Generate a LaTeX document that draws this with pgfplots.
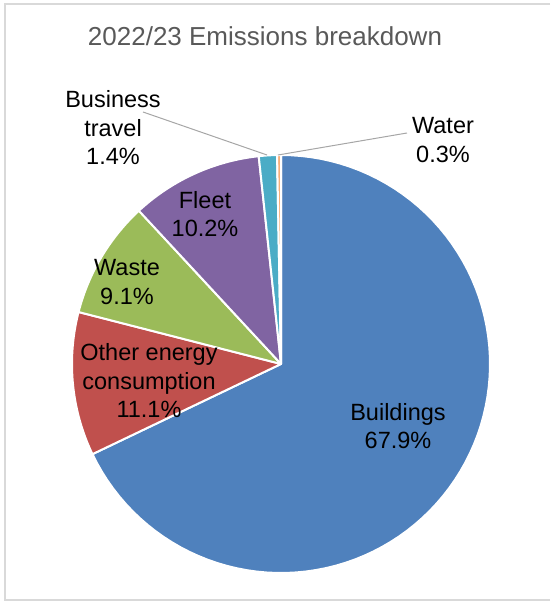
\documentclass[border=0pt]{standalone}
\usepackage{pgfplots}
\pgfplotsset{compat=1.18}
\usepackage{pgfplotstable}
\usepackage{fontspec}
\setmainfont{Liberation Sans}
\definecolor{cBuild}{HTML}{4F81BD}
\definecolor{cOther}{HTML}{C0504D}
\definecolor{cWaste}{HTML}{9BBB59}
\definecolor{cFleet}{HTML}{8064A2}
\definecolor{cBus}{HTML}{4BACC6}
\definecolor{cWater}{HTML}{F9B07A}
\definecolor{frame}{HTML}{D9D9D9}
\definecolor{leader}{HTML}{A6A6A6}
\definecolor{titlec}{HTML}{595959}
\pgfplotstableread[col sep=comma]{
label,value,color
Buildings,67.9,cBuild
Other energy consumption,11.1,cOther
Waste,9.1,cWaste
Fleet,10.2,cFleet
Business travel,1.4,cBus
Water,0.3,cWater
}\emissions
\begin{document}
\begin{tikzpicture}
\begin{axis}[scale only axis, width=550pt, height=603pt,
  xmin=0, xmax=550, ymin=0, ymax=603, hide axis, clip=false]
\path (axis cs:0,0) rectangle (axis cs:550,603);
\draw[frame, line width=1.5pt] (axis cs:550,599) -- (axis cs:5,599) -- (axis cs:5,3) -- (axis cs:550,3);
\gdef\cum{0}
\pgfplotsinvokeforeach{0,...,5}{%
  \pgfplotstablegetelem{#1}{value}\of\emissions \let\val\pgfplotsretval
  \pgfplotstablegetelem{#1}{color}\of\emissions \let\col\pgfplotsretval
  \pgfmathsetmacro{\aend}{90-3.6*\cum}%
  \pgfmathsetmacro{\astart}{90-3.6*(\cum+\val)}%
  \pgfmathsetmacro{\newcum}{\cum+\val}%
  \xdef\cum{\newcum}%
  \edef\temp{\noexpand\addplot[fill=\col, draw=white, line width=2pt, line join=round,
     domain=\astart:\aend, samples=90, variable=\noexpand\t]
     ({281+209*cos(\noexpand\t)},{239+209*sin(\noexpand\t)}) -- (axis cs:281,239) -- cycle;}%
  \temp
}
\draw[leader, line width=1pt] (axis cs:143,491) -- (axis cs:267,448);
\draw[leader, line width=1pt] (axis cs:407,470) -- (axis cs:278,448);
\node[text=titlec, font=\fontsize{26}{31}\selectfont] at (axis cs:265,567) {2022/23 Emissions breakdown};
\tikzset{lab/.style={align=center, font=\fontsize{23.5}{28.5}\selectfont, text=black, inner sep=0pt}}
\node[lab] at (axis cs:398,177) {Buildings\\67.9\%};
\node[lab] at (axis cs:149,222) {Other energy\\consumption\\11.1\%};
\node[lab] at (axis cs:127,321) {Waste\\9.1\%};
\node[lab] at (axis cs:205,389) {Fleet\\10.2\%};
\node[lab] at (axis cs:113,475) {Business\\travel\\1.4\%};
\node[lab] at (axis cs:443,463) {Water\\0.3\%};
\end{axis}
\end{tikzpicture}
\end{document}
